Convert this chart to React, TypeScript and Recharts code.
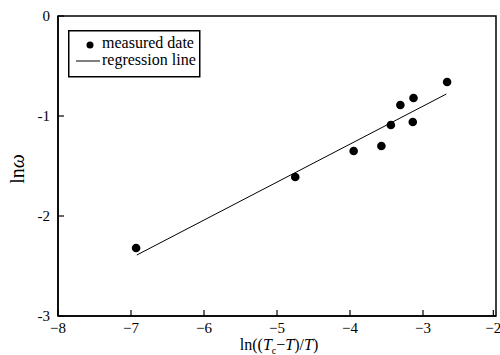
import React from 'react';
import { ComposedChart, Scatter, Line, XAxis, YAxis, ReferenceArea } from 'recharts';

const xTicks = [-8, -7, -6, -5, -4, -3, -2];
const yTicks = [0, -1, -2, -3];

const measured = [
  { x: -6.93, y: -2.32 },
  { x: -4.75, y: -1.61 },
  { x: -3.95, y: -1.35 },
  { x: -3.57, y: -1.3 },
  { x: -3.44, y: -1.09 },
  { x: -3.31, y: -0.89 },
  { x: -3.14, y: -1.06 },
  { x: -3.13, y: -0.82 },
  { x: -2.67, y: -0.66 },
];

const regression = [
  { x: -6.92, y: -2.39 },
  { x: -2.68, y: -0.78 },
];

const FONT = 'Liberation Serif, DejaVu Serif, serif';
const txt = { fontFamily: FONT };

function XTick(props: any) {
  const { x, y, payload } = props;
  return (
    <g>
      <line x1={x} y1={y} x2={x} y2={y - 6} stroke="#000" strokeWidth={1.2} />
      <text x={x} y={y + 17} textAnchor="middle" fontSize={15} style={txt} fill="#000">
        {String(payload.value).replace('-', '\u2212')}
      </text>
    </g>
  );
}

function YTick(props: any) {
  const { x, y, payload } = props;
  return (
    <g>
      <line x1={x} y1={y} x2={x + 6} y2={y} stroke="#000" strokeWidth={1.2} />
      <text x={x - 8} y={y + 5} textAnchor="end" fontSize={15} style={txt} fill="#000">
        {payload.value}
      </text>
    </g>
  );
}

export default function App() {
  return (
    <div style={{ position: 'absolute', left: 0, top: 0, width: 500, height: 355, background: '#fff' }}>
      <ComposedChart width={500} height={355} margin={{ top: 16, right: 4, bottom: 0, left: 0 }}>
        <XAxis
          type="number"
          dataKey="x"
          domain={[-8, -2]}
          ticks={xTicks}
          tickSize={0}
          tickMargin={0}
          tick={<XTick />}
          axisLine={{ stroke: '#000', strokeWidth: 1.5 }}
          tickLine={false}
          height={39}
          allowDataOverflow
        />
        <YAxis
          type="number"
          dataKey="y"
          domain={[-3, 0]}
          ticks={yTicks}
          tickSize={0}
          tickMargin={0}
          tick={<YTick />}
          axisLine={{ stroke: '#000', strokeWidth: 1.5 }}
          tickLine={false}
          width={58}
          allowDataOverflow
        />
        <ReferenceArea x1={-8} x2={-2} y1={-3} y2={0} fill="none" stroke="#000" strokeWidth={1.5} ifOverflow="visible" />
        <Line
          data={regression}
          dataKey="y"
          name="regression line"
          stroke="#000"
          strokeWidth={1}
          dot={false}
          activeDot={false}
          isAnimationActive={false}
        />
        <Scatter
          data={measured}
          dataKey="y"
          name="measured date"
          fill="#000"
          shape={(p: any) => <circle cx={p.cx} cy={p.cy} r={4.3} fill="#000" />}
          isAnimationActive={false}
        />
        <g transform="translate(68,30)">
          <rect x={0.75} y={0.75} width={131} height={46} fill="#fff" stroke="#000" strokeWidth={1.5} />
          <circle cx={22} cy={15} r={3.5} fill="#000" />
          <text x={34} y={18} fontSize={16} style={txt} fill="#000">measured date</text>
          <line x1={8} y1={31} x2={32} y2={31} stroke="#000" strokeWidth={1} />
          <text x={34} y={35} fontSize={16} style={txt} fill="#000">regression line</text>
        </g>
        <text x={279} y={350} textAnchor="middle" fontSize={16} style={txt} fill="#000">
          ln((
          <tspan fontStyle="italic">T</tspan>
          <tspan fontSize={10} dy={4}>c</tspan>
          <tspan dy={-4}>{'\u2212'}</tspan>
          <tspan fontStyle="italic">T</tspan>
          )/
          <tspan fontStyle="italic">T</tspan>
          )
        </text>
        <text x={24} y={169} transform="rotate(-90 24 169)" textAnchor="middle" fontSize={20} style={txt} fill="#000">
          ln<tspan fontStyle="italic">ω</tspan>
        </text>
      </ComposedChart>
    </div>
  );
}
